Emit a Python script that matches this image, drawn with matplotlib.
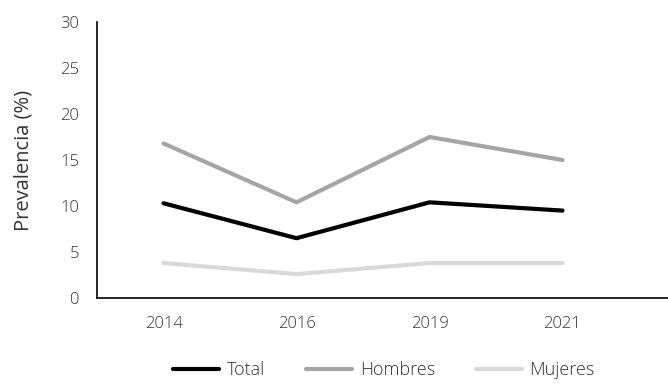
import matplotlib
matplotlib.use("Agg")
import matplotlib.pyplot as plt

years = ["2014", "2016", "2019", "2021"]
total = [10.3, 6.5, 10.4, 9.5]
hombres = [16.8, 10.4, 17.5, 15.0]
mujeres = [3.8, 2.6, 3.8, 3.8]

plt.rcParams['font.family'] = ['Open Sans', 'DejaVu Sans']
plt.rcParams['font.weight'] = 'light'

fig = plt.figure(figsize=(6.68, 3.84), dpi=100)
ax = fig.add_axes([97/668, 1-298/384, (668-97)/668, (298-22)/384])

x = list(range(len(years)))
ax.plot(x, total, color="#000000", lw=3, solid_capstyle='round', label="Total")
ax.plot(x, hombres, color="#a5a5a5", lw=3, solid_capstyle='round', label="Hombres")
ax.plot(x, mujeres, color="#d9d9d9", lw=3, solid_capstyle='round', label="Mujeres")

ax.set_xlim(-0.5, (668-97)/133 - 0.5)
ax.set_ylim(0, 30)
ax.set_yticks(range(0, 31, 5))
ax.set_xticks(x)
ax.set_xticklabels(years)
ax.tick_params(length=0, labelsize=12, colors="#333333")
ax.tick_params(axis='x', pad=13)
ax.tick_params(axis='y', pad=13)
for s in ["top", "right"]:
    ax.spines[s].set_visible(False)
for s in ["left", "bottom"]:
    ax.spines[s].set_color("#000000")
    ax.spines[s].set_linewidth(1.2)
ax.set_ylabel("Prevalencia (%)", fontsize=14.5, color="#333333", labelpad=19)

leg = fig.legend(loc="lower center", bbox_to_anchor=(0.575, -0.03), ncol=3, frameon=False,
                 fontsize=13, handlelength=2.55, columnspacing=2.3, handletextpad=0.4)
for t in leg.get_texts():
    t.set_color("#333333")

fig.savefig("out.png", dpi=100)
